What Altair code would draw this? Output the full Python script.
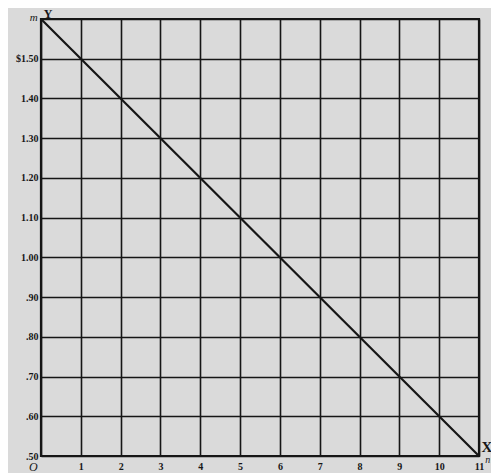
import altair as alt
import pandas as pd

# Data
line_x = [0, 11]
line_y = [1.60, 0.50]

x_ticks = [0, 1, 2, 3, 4, 5, 6, 7, 8, 9, 10, 11]
x_tick_labels = ["", "1", "2", "3", "4", "5", "6", "7", "8", "9", "10", "11"]

y_ticks = [0.5, 0.6, 0.7, 0.8, 0.9, 1.0, 1.1, 1.2, 1.3, 1.4, 1.5, 1.6]
y_tick_labels = [".50", ".60", ".70", ".80", ".90", "1.00", "1.10", "1.20",
                 "1.30", "1.40", "$1.50", ""]

ann_text = ["O", "X", "n", "Y", "m"]
ann_x = [-0.19, 11.2, 11.22, 0.18, -0.18]
ann_y = [0.472, 0.523, 0.49, 1.612, 1.603]
ann_style = ["italic", "normal", "italic", "normal", "italic"]
ann_size = [12, 15, 10, 12, 11]

INK = "#161616"
PAPER = "#dadada"
FONT = "Liberation Serif"


def label_expr(values, labels):
    vals = ",".join(repr(v) for v in values)
    labs = ",".join("'" + s + "'" for s in labels)
    return f"[{labs}][indexof([{vals}], datum.value)]"


line_df = pd.DataFrame({"x": line_x, "y": line_y})
ann_df = pd.DataFrame({"t": ann_text, "x": ann_x, "y": ann_y,
                       "st": ann_style, "sz": ann_size})

xs = alt.Scale(domain=[0, 11], nice=False, zero=False)
ys = alt.Scale(domain=[0.5, 1.6], nice=False, zero=False)

x_axis = alt.Axis(
    values=x_ticks, labelExpr=label_expr(x_ticks, x_tick_labels),
    title=None, grid=True, gridColor=INK, gridWidth=1.6, gridOpacity=1,
    ticks=False, domain=False, labelFont=FONT, labelFontWeight="bold",
    labelFontSize=10, labelColor=INK, labelPadding=5, labelFlush=False,
    labelOverlap=False, labelBound=False)
y_axis = alt.Axis(
    values=y_ticks, labelExpr=label_expr(y_ticks, y_tick_labels),
    title=None, grid=True, gridColor=INK, gridWidth=1.6, gridOpacity=1,
    ticks=False, domain=False, labelFont=FONT, labelFontWeight="bold",
    labelFontSize=10, labelColor=INK, labelPadding=3, labelFlush=False,
    labelOverlap=False, labelBound=False)

base_x = alt.X("x:Q", scale=xs, axis=x_axis)
base_y = alt.Y("y:Q", scale=ys, axis=y_axis)

line = alt.Chart(line_df).mark_line(color=INK, strokeWidth=2.2, clip=False).encode(
    x=base_x, y=base_y)

texts = []
for i in range(len(ann_text)):
    sub = ann_df.iloc[[i]]
    texts.append(alt.Chart(sub).mark_text(
        font=FONT, fontSize=int(ann_size[i]), fontStyle=ann_style[i],
        fontWeight="bold" if ann_text[i] in ("X", "Y") else "normal",
        color=INK, align="center", baseline="middle", clip=False
    ).encode(x=base_x, y=base_y, text="t:N"))

chart = alt.layer(line, *texts).properties(
    width=438, height=437,
    padding={"left": 33, "top": 11, "right": 12, "bottom": 20},
    autosize=alt.AutoSizeParams(type="none"),
    background=PAPER,
).configure_view(stroke=INK, strokeWidth=2.2, fill=PAPER)

chart.save("out.html", embed_options={"renderer": "svg", "actions": False})
